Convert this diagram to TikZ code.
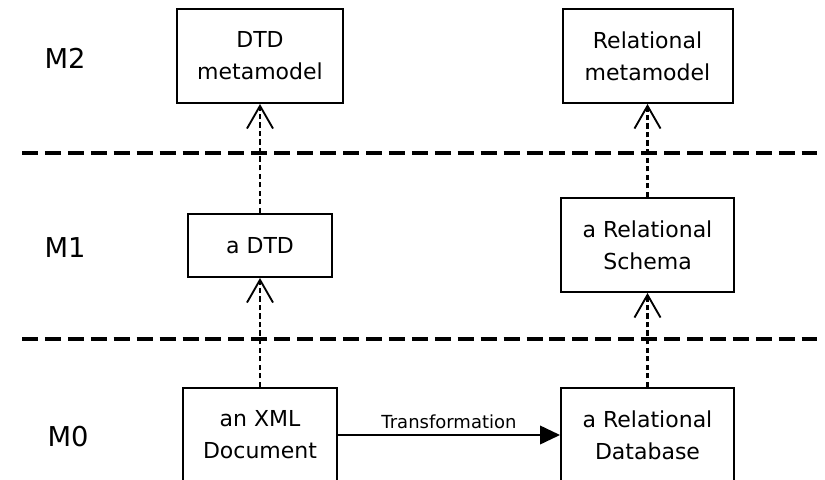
\documentclass[tikz,border=0pt]{standalone}
\usepackage{fontspec}
\setmainfont{DejaVu Sans}
\usetikzlibrary{arrows.meta}

\tikzset{
  box/.style={draw, line width=1.5pt, align=center, inner sep=0pt, font=\fontsize{16.5}{24}\selectfont},
  lev/.style={inner sep=0pt, font=\fontsize{20.5}{24}\selectfont},
  conn/.style={line width=2pt, dash pattern=on 4pt off 2.4pt, -{Straight Barb[length=17pt, width=19.5pt, line width=1.4pt]}},
  sep/.style={line width=2.5pt, dash pattern=on 12pt off 5.2pt},
  trans/.style={line width=1.3pt, -{Triangle[length=15pt, width=14pt]}}
}

\begin{document}
\begin{tikzpicture}[x=0.75pt,y=0.75pt,yscale=-1,xscale=1]
\useasboundingbox (0,0) rectangle (825,479);
\clip (0,0) rectangle (825,479);

% levels
\node[lev] (m2) at (65,58) {M2};
\node[lev] (m1) at (65,248) {M1};
\node[lev] (m0) at (68,437) {M0};

% separators
\coordinate (s1l) at (22,153);
\coordinate (s1r) at (817,153);
\coordinate (s2l) at (22,339);
\coordinate (s2r) at (817,339);
\draw[sep] (s1l) -- (s1r);
\draw[sep] (s2l) -- (s2r);

% DTD side
\node[box, minimum width=124.5pt, minimum height=70.5pt] (dtdmm) at (260,56) {DTD\\metamodel};
\node[box, minimum width=108pt, minimum height=47.25pt] (dtd) at (260,245.5) {a DTD};
\node[box, minimum width=115.5pt, minimum height=70.5pt] (xml) at (260,435) {an XML\\Document};

% relational side
\node[box, minimum width=127.5pt, minimum height=70.5pt] (relmm) at (647.5,56) {Relational\\metamodel};
\node[box, minimum width=129.75pt, minimum height=70.5pt] (schema) at (647.5,245) {a Relational\\Schema};
\node[box, minimum width=129.75pt, minimum height=70.5pt] (db) at (647.5,435) {a Relational\\Database};

% instance-of links
\draw[conn] (xml.north) -- (dtd.south);
\draw[conn] (dtd.north) -- (dtdmm.south);
\draw[conn] (db.north) -- (schema.south);
\draw[conn] (schema.north) -- (relmm.south);

% transformation
\draw[trans] (xml.east) -- (db.west) node[midway, above=4pt, inner sep=0pt, font=\fontsize{13.5}{16}\selectfont] (tlabel) {Transformation};

\end{tikzpicture}
\end{document}
